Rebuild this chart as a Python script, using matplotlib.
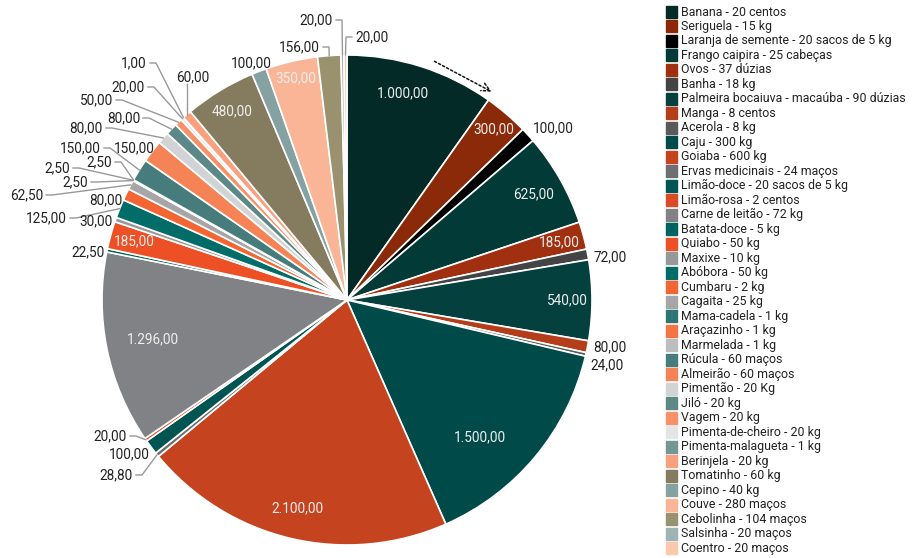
import numpy as np
import matplotlib.pyplot as plt

plt.rcParams['font.family'] = ['Roboto', 'DejaVu Sans']

produtos = ['Banana - 20 centos', 'Seriguela - 15 kg', 'Laranja de semente - 20 sacos de 5 kg',
            'Frango caipira - 25 cabeças', 'Ovos - 37 dúzias', 'Banha - 18 kg',
            'Palmeira bocaiuva - macaúba - 90 dúzias', 'Manga - 8 centos', 'Acerola - 8 kg',
            'Caju - 300 kg', 'Goiaba - 600 kg', 'Ervas medicinais - 24 maços',
            'Limão-doce - 20 sacos de 5 kg', 'Limão-rosa - 2 centos', 'Carne de leitão - 72 kg',
            'Batata-doce - 5 kg', 'Quiabo - 50 kg', 'Maxixe - 10 kg', 'Abóbora - 50 kg',
            'Cumbaru - 2 kg', 'Cagaita - 25 kg', 'Mama-cadela - 1 kg', 'Araçazinho - 1 kg',
            'Marmelada - 1 kg', 'Rúcula - 60 maços', 'Almeirão - 60 maços', 'Pimentão - 20 Kg',
            'Jiló - 20 kg', 'Vagem - 20 kg', 'Pimenta-de-cheiro - 20 kg',
            'Pimenta-malagueta - 1 kg', 'Berinjela - 20 kg', 'Tomatinho - 60 kg',
            'Cepino - 40 kg', 'Couve - 280 maços', 'Cebolinha - 104 maços',
            'Salsinha - 20 maços', 'Coentro - 20 maços']

valores = [1000, 300, 100, 625, 185, 72, 540, 80, 24, 1500, 2100, 28.8, 100, 20, 1296,
           22.5, 185, 30, 125, 80, 62.5, 2.5, 2.5, 2.5, 150, 150, 80, 80, 50, 20, 1, 60,
           480, 100, 350, 156, 20, 20]

cores = ['#032a26', '#8a2a08', '#000000', '#023a37', '#a0300f', '#444446', '#03403e',
         '#b43d1a', '#5a5a5d', '#004a4a', '#c6431f', '#6d6e71', '#005552', '#da4a26',
         '#818285', '#00635f', '#ee5025', '#97979a', '#016c68', '#f36633', '#a6a6a9',
         '#2e7473', '#f57444', '#bcbdbf', '#477c7c', '#f68356', '#d2d3d4', '#5c8888',
         '#f89167', '#e5e5e6', '#729796', '#f9a07f', '#857c5f', '#86a1a1', '#f9b595',
         '#9a926f', '#a0b3b3', '#fbc8ae']

# labels inside wedges: index -> (radius fraction, angle shift in degrees)
dentro = {0: (0.875, 2.5), 1: (0.92, 0), 3: (0.875, 0), 4: (0.9, 0), 6: (0.9, 0),
          9: (0.78, -6), 10: (0.875, 0), 14: (0.81, 0), 16: (0.9, 0),
          32: (0.9, 0), 34: (0.93, 0)}

# labels outside: index -> (x px, y px from top, ha, leader)
fora = {
    2: (533, 128, 'left', None),
    5: (593, 257, 'left', None),
    7: (593, 347, 'left', None),
    8: (590, 365, 'left', None),
    11: (133, 475, 'right', 'h'),
    12: (150, 454, 'right', None),
    13: (127, 436, 'right', 'h'),
    15: (105, 252, 'right', None),
    17: (113, 221, 'right', None),
    18: (67, 218, 'right', 'h'),
    19: (122, 200, 'right', None),
    20: (43, 195, 'right', 'h'),
    21: (88, 182, 'right', 'h'),
    22: (70, 168, 'right', 'h'),
    23: (112, 162, 'right', 'h'),
    24: (101, 148, 'right', 'h'),
    25: (155, 148, 'right', None),
    26: (103, 128, 'right', 'h'),
    27: (140, 118, 'right', 'h'),
    28: (113, 100, 'right', 'h'),
    29: (145, 87, 'right', 'h'),
    30: (147, 63, 'right', 'h'),
    31: (193, 77, 'center', 'v'),
    33: (251, 63, 'center', None),
    35: (320, 47, 'right', 'h'),
    37: (355, 37, 'left', 'h'),
    36: (333, 20, 'right', 'h'),
}


def fmt(v):
    s = f'{v:,.2f}'
    return s.replace(',', 'X').replace('.', ',').replace('X', '.')


W, H = 916, 558
cx, cy, R = 347, H - 300, 245

fig = plt.figure(figsize=(W / 100, H / 100), dpi=100)
ax = fig.add_axes([0, 0, 1, 1])

wedges, _ = ax.pie(valores, colors=cores, startangle=90, counterclock=False,
                   center=(cx, cy), radius=R,
                   wedgeprops=dict(edgecolor='white', linewidth=1.2))
ax.set_xlim(0, W)
ax.set_ylim(0, H)
ax.set_aspect('auto')
ax.axis('off')

for i, w in enumerate(wedges):
    ang = np.deg2rad((w.theta1 + w.theta2) / 2)
    if i in dentro:
        frac, shift = dentro[i]
        a = ang + np.deg2rad(shift)
        r = frac * R
        ax.text(cx + r * np.cos(a), cy + r * np.sin(a), fmt(valores[i]),
                ha='center', va='center', fontsize=9.8, color='#eeeeee')
    elif i in fora:
        px, py, ha, leader = fora[i]
        ty = H - py
        ax.text(px, ty, fmt(valores[i]), ha=ha, va='center', fontsize=9.8,
                color='#222222')
        ex, ey = cx + R * np.cos(ang), cy + R * np.sin(ang)
        if leader == 'h':
            sx = px + 3 if ha == 'right' else px - 3
            kx = sx + 6 if ha == 'right' else sx - 6
            ax.plot([sx, kx, ex], [ty, ty, ey], color='#999999', lw=1)
        elif leader == 'v':
            ax.plot([ex, ex, ex], [ty - 7, ty - 12, ey], color='#999999', lw=1)

# direction arrow
ax.annotate('', xy=(494, H - 93), xytext=(432, H - 60),
            arrowprops=dict(arrowstyle='->', linestyle=(0, (1.5, 1.5)),
                            color='#111111', lw=1.1, mutation_scale=15))

# legend
for i, (nome, cor) in enumerate(zip(produtos, cores)):
    y = 12 + i * 14.49
    fig.patches.append(plt.Rectangle((666 / W, 1 - (y + 6) / H), 11 / W, 12 / H,
                                     transform=fig.transFigure, color=cor, figure=fig))
    fig.text(681 / W, 1 - y / H, nome, ha='left', va='center', fontsize=8.95,
             color='#222222')

fig.savefig('out.png', dpi=100)
